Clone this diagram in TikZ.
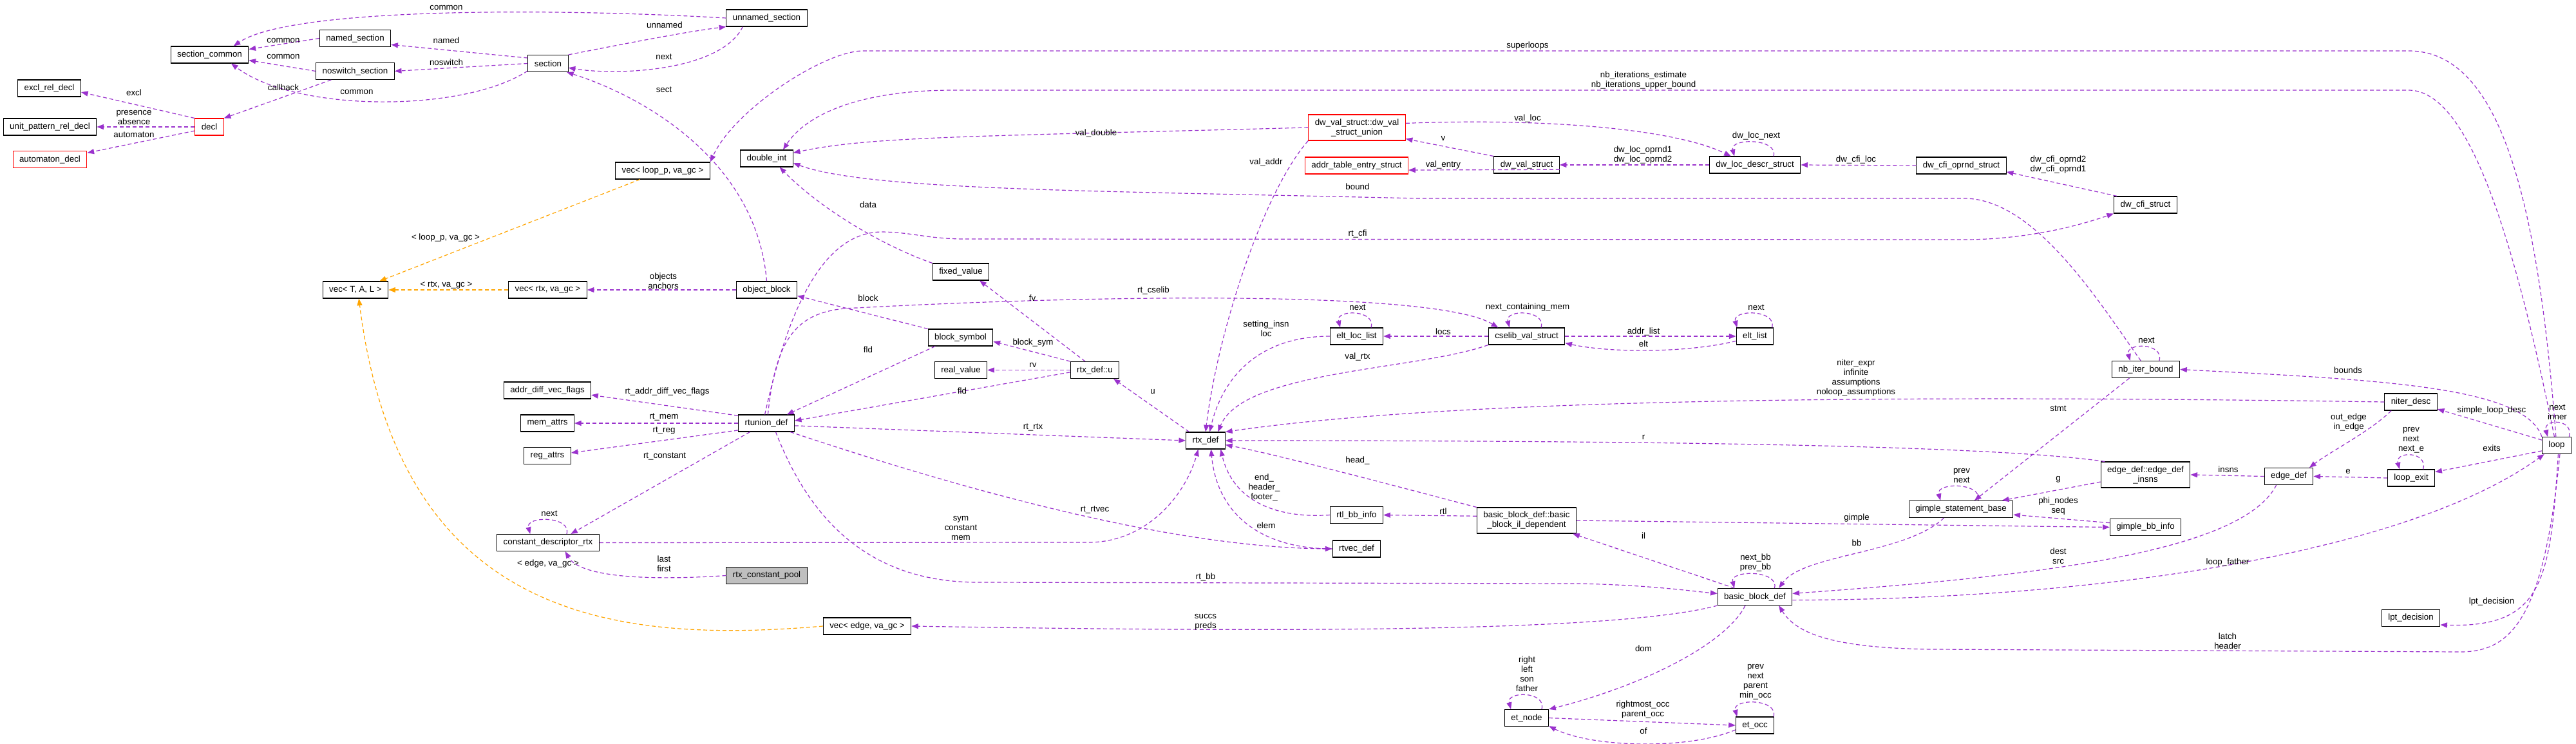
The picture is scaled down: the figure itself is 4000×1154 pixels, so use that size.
\documentclass[tikz,border=0pt]{standalone}
\usepackage{fontspec}
\setmainfont{Liberation Sans}
\usetikzlibrary{arrows.meta}
\definecolor{usecol}{HTML}{9A32CD}
\definecolor{tplcol}{HTML}{FFA500}
\begin{document}
\begin{tikzpicture}[x=0.75pt, y=-0.75pt, font=\fontsize{10}{11.25}\selectfont, >={Triangle[length=8pt,width=6pt]},
      cls/.style={draw=black, line width=0.8pt, fill=white, inner xsep=7.5pt, inner ysep=2pt, minimum height=19.5pt, align=center},
      trunc/.style={cls, draw=red},
      twoline/.style={minimum height=30pt},
      lbl/.style={inner sep=0pt, align=center},
      usage/.style={->, draw=usecol, line width=0.9pt, dash pattern=on 4.5pt off 3pt},
      tmpl/.style={usage, draw=tplcol}]
    \fill[white] (0,0) rectangle (4000,1154);
    \useasboundingbox (0,0) rectangle (4000,1154);
    % classes
    \node[cls] (exclrel) at (76.5,137) {excl\_rel\_decl};
    \node[cls] (unitpat) at (77.5,197) {unit\_pattern\_rel\_decl};
    \node[trunc] (autodecl) at (77.5,247.5) {automaton\_decl};
    \node[trunc] (decl) at (325,197) {decl};
    \node[cls] (seccommon) at (325.5,85) {section\_common};
    \node[cls] (namedsec) at (551.5,59.5) {named\_section};
    \node[cls] (noswsec) at (551.5,110.5) {noswitch\_section};
    \node[cls] (section) at (851,98.5) {section};
    \node[cls] (unnamedsec) at (1190.5,28) {unnamed\_section};
    \node[cls] (vecloop) at (1029,265) {vec< loop\_p, va\_gc >};
    \node[cls] (dblint) at (1190.5,246) {double\_int};
    \node[cls] (vectal) at (552,450) {vec< T, A, L >};
    \node[cls] (vecrtx) at (850.5,450) {vec< rtx, va\_gc >};
    \node[cls] (objblock) at (1190.5,450) {object\_block};
    \node[cls] (fixedval) at (1492,422) {fixed\_value};
    \node[cls] (blocksym) at (1491.5,524) {block\_symbol};
    \node[cls] (realval) at (1492,574.5) {real\_value};
    \node[cls] (rtxu) at (1700,574.5) {rtx\_def::u};
    \node[cls] (adfflags) at (850,606) {addr\_diff\_vec\_flags};
    \node[cls] (memattrs) at (850,657) {mem\_attrs};
    \node[cls] (regattrs) at (850,707.5) {reg\_attrs};
    \node[cls] (rtunion) at (1190,657) {rtunion\_def};
    \node[cls] (rtxdef) at (1872,684) {rtx\_def};
    \node[cls] (constdesc) at (851,842.5) {constant\_descriptor\_rtx};
    \node[cls, fill=black!25] (constpool) at (1190.5,893.5) {rtx\_constant\_pool};
    \node[cls] (vecedge) at (1346.5,972) {vec< edge, va\_gc >};
    \node[trunc, twoline] (dwunion) at (2107,198) {dw\_val\_struct::dw\_val\\\_struct\_union};
    \node[trunc] (addrtable) at (2106.5,257) {addr\_table\_entry\_struct};
    \node[cls] (dwval) at (2370.5,256) {dw\_val\_struct};
    \node[cls] (dwloc) at (2725,256) {dw\_loc\_descr\_struct};
    \node[cls] (dwcfiop) at (3045.5,257) {dw\_cfi\_oprnd\_struct};
    \node[cls] (dwcfi) at (3331.5,318) {dw\_cfi\_struct};
    \node[cls] (eltloc) at (2106.5,522) {elt\_loc\_list};
    \node[cls] (cselib) at (2370.5,522) {cselib\_val\_struct};
    \node[cls] (eltlist) at (2725,522) {elt\_list};
    \node[cls] (nbiter) at (3332,573.5) {nb\_iter\_bound};
    \node[cls] (niter) at (3743.5,624) {niter\_desc};
    \node[cls] (loop) at (3970,691.5) {loop};
    \node[cls, twoline] (edgeinsns) at (3331.5,737) {edge\_def::edge\_def\\\_insns};
    \node[cls] (edgedef) at (3554,739.5) {edge\_def};
    \node[cls] (loopexit) at (3744,742) {loop\_exit};
    \node[cls] (gimplesb) at (3045,790.5) {gimple\_statement\_base};
    \node[cls] (gimplebb) at (3331.5,818.5) {gimple\_bb\_info};
    \node[cls] (lptdec) at (3743.5,959.5) {lpt\_decision};
    \node[cls] (rtlbb) at (2106.5,799.5) {rtl\_bb\_info};
    \node[cls] (rtvec) at (2106.5,852) {rtvec\_def};
    \node[cls, twoline] (bbil) at (2370.5,808) {basic\_block\_def::basic\\\_block\_il\_dependent};
    \node[cls] (bbdef) at (2725,926.5) {basic\_block\_def};
    \node[cls] (etnode) at (2370.5,1114.5) {et\_node};
    \node[cls] (etocc) at (2725,1126) {et\_occ};
    % sections and decl
    \draw[usage] (unnamedsec.west) .. controls (850,12) and (450,12) .. (seccommon.20);
    \draw[usage] (namedsec.west) -- (seccommon.8);
    \draw[usage] (noswsec.west) -- (seccommon.-8);
    \draw[usage] (section.165) -- (namedsec.-10);
    \draw[usage] (section.west) -- (noswsec.east);
    \draw[usage] (section.200) .. controls (720,175) and (460,175) .. (seccommon.-22);
    \draw[usage] (noswsec.200) -- (decl.north east);
    \draw[usage] (decl.north west) -- (exclrel.-7);
    \draw[usage] (decl.west) -- (unitpat.east);
    \draw[usage] (decl.195) -- (autodecl.10);
    \draw[usage] (section.north east) .. controls (960,70) and (1060,50) .. (unnamedsec.south west);
    \draw[usage] (unnamedsec.200) .. controls (1120,110) and (960,118) .. (section.-12);
    \draw[usage] (objblock.north) .. controls (1175,250) and (1000,150) .. (section.-25);
    \draw[usage] (objblock.west) -- (vecrtx.east);
    % templates
    \draw[tmpl] (vecrtx.west) -- (vectal.east);
    \draw[tmpl] (vecloop.201) -- (vectal.20);
    \draw[tmpl] (vecedge.west) .. controls (950,1000) and (620,960) .. (vectal.-69);
    % double_int and dwarf
    \draw[usage] (loop.95) .. controls (3940,300) and (3880,79) .. (3740,79) -- (1340,79) .. controls (1280,79) and (1140,170) .. (vecloop.north east);
    \draw[usage] (loop.105) .. controls (3900,350) and (3830,140) .. (3740,140) -- (1480,140) .. controls (1330,140) and (1250,180) .. (dblint.28);
    \draw[usage] (dwunion.west) .. controls (1500,212) and (1350,212) .. (dblint.12);
    \draw[usage] (dwunion.south west) .. controls (1960,300) and (1890,520) .. (rtxdef.north);
    \draw[usage] (fixedval.north west) .. controls (1380,385) and (1280,330) .. (dblint.-34);
    \draw[usage] (nbiter.120) .. controls (3260,470) and (3160,308) .. (3050,308) -- (2200,308) .. controls (1700,296) and (1350,296) .. (dblint.-10);
    \draw[usage] (dwunion.5) .. controls (2400,183) and (2600,200) .. (dwloc.160);
    \draw[usage] (dwval.north west) -- (dwunion.-13);
    \draw[usage] (dwval.-8) -- (addrtable.-5);
    \draw[usage] (dwloc.west) -- (dwval.east);
    \draw[usage] (dwcfiop.west) -- (dwloc.east);
    \draw[usage] (dwcfi.163) -- (dwcfiop.-8);
    \draw[usage] (dwloc.25) to[out=75,in=105,distance=22pt] (dwloc.157);
    \draw[usage] (rtunion.100) .. controls (1230,450) and (1290,360) .. (1370,360) .. controls (1420,361) and (1440,371) .. (1500,371) -- (3050,372) .. controls (3120,372) and (3200,360) .. (dwcfi.south west);
    % rtl
    \draw[usage] (rtunion.80) .. controls (1205,520) and (1240,480) .. (1330,478) .. controls (1700,458) and (2230,450) .. (cselib.163);
    \draw[usage] (cselib.west) -- (eltloc.east);
    \draw[usage] (cselib.east) -- (eltlist.west);
    \draw[usage] (eltlist.194) .. controls (2620,548) and (2500,548) .. (cselib.-10);
    \draw[usage] (eltloc.31) to[out=75,in=105,distance=22pt] (eltloc.152);
    \draw[usage] (cselib.31) to[out=75,in=105,distance=22pt] (cselib.153);
    \draw[usage] (eltlist.27) to[out=75,in=105,distance=22pt] (eltlist.154);
    \draw[usage] (eltloc.west) .. controls (1960,522) and (1900,580) .. (rtxdef.65);
    \draw[usage] (cselib.south west) .. controls (2200,575) and (1930,575) .. (rtxdef.35);
    \draw[usage] (niter.west) .. controls (2900,612) and (2250,620) .. (rtxdef.north east);
    \draw[usage] (edgeinsns.162) .. controls (3100,692) and (2600,684) .. (rtxdef.east);
    \draw[usage] (bbil.north west) .. controls (2150,750) and (1980,705) .. (rtxdef.-12);
    \draw[usage] (bbil.175) -- (rtlbb.east);
    \draw[usage] (rtlbb.west) .. controls (1985,805) and (1915,780) .. (rtxdef.-30);
    \draw[usage] (rtvec.west) .. controls (1960,852) and (1890,800) .. (rtxdef.-58);
    \draw[usage] (rtunion.-20) .. controls (1450,745) and (1800,850) .. (rtvec.west);
    \draw[usage] (constdesc.east) -- (1690,842) .. controls (1780,842) and (1840,770) .. (rtxdef.-130);
    \draw[usage] (rtunion.-5) -- (rtxdef.west);
    \draw[usage] (rtxdef.152) -- (rtxu.-25);
    \draw[usage] (rtxu.138) -- (fixedval.-25);
    \draw[usage] (rtxu.north west) -- (blocksym.-7);
    \draw[usage] (rtxu.west) -- (realval.east);
    \draw[usage] (rtxu.185) -- (rtunion.5);
    \draw[usage] (blocksym.north west) -- (objblock.-11);
    \draw[usage] (blocksym.199) -- (rtunion.23);
    \draw[usage] (rtunion.165) -- (adfflags.-6);
    \draw[usage] (rtunion.west) -- (memattrs.east);
    \draw[usage] (rtunion.194) -- (regattrs.7);
    \draw[usage] (rtunion.208) -- (constdesc.21);
    \draw[usage] (constdesc.25) to[out=75,in=105,distance=22pt] (constdesc.154);
    \draw[usage] (constpool.west) .. controls (1000,902) and (900,895) .. (constdesc.-27);
    \draw[usage] (rtunion.-43) .. controls (1270,840) and (1380,904) .. (1520,904) -- (2450,906) .. controls (2560,908) and (2630,918) .. (bbdef.175);
    % basic blocks
    \draw[usage] (bbdef.157) -- (bbil.-16);
    \draw[usage] (bbdef.24) to[out=75,in=105,distance=22pt] (bbdef.157);
    \draw[usage] (bbdef.south west) .. controls (2500,985) and (1900,980) .. (vecedge.east);
    \draw[usage] (bbdef.-138) .. controls (2680,1000) and (2550,1065) .. (etnode.north east);
    \draw[usage] (etnode.east) -- (etocc.west);
    \draw[usage] (etocc.193) .. controls (2620,1165) and (2470,1160) .. (etnode.-20);
    \draw[usage] (etnode.30) to[out=75,in=105,distance=22pt] (etnode.151);
    \draw[usage] (etocc.25) to[out=75,in=105,distance=22pt] (etocc.154);
    \draw[usage] (gimplesb.207) .. controls (2960,860) and (2800,860) .. (bbdef.20);
    \draw[usage] (bbil.east) -- (gimplebb.west);
    \draw[usage] (gimplebb.173) -- (gimplesb.-6);
    \draw[usage] (gimplesb.27) to[out=75,in=105,distance=22pt] (gimplesb.157);
    \draw[usage] (nbiter.208) -- (gimplesb.33);
    \draw[usage] (nbiter.33) to[out=75,in=105,distance=22pt] (nbiter.151);
    \draw[usage] (edgeinsns.189) -- (gimplesb.12);
    % loops
    \draw[usage] (edgedef.215) .. controls (3480,860) and (3150,895) .. (bbdef.5);
    \draw[usage] (bbdef.-5) .. controls (3300,930) and (3750,850) .. (loop.215);
    \draw[usage] (loop.-70) .. controls (3950,960) and (3900,1012) .. (3820,1012) -- (3000,1008) .. controls (2850,1006) and (2790,985) .. (bbdef.-20);
    \draw[usage] (loop.-80) .. controls (3960,900) and (3950,975) .. (lptdec.-13);
    \draw[usage] (loop.north west) .. controls (3920,600) and (3700,590) .. (nbiter.east);
    \draw[usage] (loop.160) -- (niter.-15);
    \draw[usage] (loop.200) -- (loopexit.14);
    \draw[usage] (loop.35) to[out=75,in=105,distance=22pt] (loop.136);
    \draw[usage] (loopexit.west) -- (edgedef.east);
    \draw[usage] (loopexit.36) to[out=75,in=105,distance=22pt] (loopexit.143);
    \draw[usage] (edgedef.west) -- (edgeinsns.east);
    \draw[usage] (niter.204) .. controls (3680,670) and (3620,700) .. (edgedef.23);
    % labels
    \node[lbl] (t-common1) at (693,12) {common};
    \node[lbl] (t-common2) at (440,63) {common};
    \node[lbl] (t-common3) at (440,88) {common};
    \node[lbl] (t-named) at (693,63) {named};
    \node[lbl] (t-noswitch) at (693,97) {noswitch};
    \node[lbl] (t-callback) at (440,136) {callback};
    \node[lbl] (t-common4) at (554,143) {common};
    \node[lbl] (t-excl) at (208,144) {excl};
    \node[lbl] (t-presence) at (208,182) {presence\\absence};
    \node[lbl] (t-automaton) at (208,209) {automaton};
    \node[lbl] (t-unnamed) at (1032,39) {unnamed};
    \node[lbl] (t-next1) at (1031,88) {next};
    \node[lbl] (t-sect) at (1031,139) {sect};
    \node[lbl] (t-looppva) at (692,369) {< loop\_p, va\_gc >};
    \node[lbl] (t-rtxva) at (693,443) {< rtx, va\_gc >};
    \node[lbl] (t-objects) at (1030,436) {objects\\anchors};
    \node[lbl] (t-edgeva) at (851,875) {< edge, va\_gc >};
    \node[lbl] (t-superloops) at (2372,71) {superloops};
    \node[lbl] (t-nbiter) at (2552,124.5) {nb\_iterations\_estimate\\nb\_iterations\_upper\_bound};
    \node[lbl] (t-valdouble) at (1702,207) {val\_double};
    \node[lbl] (t-valaddr) at (1966,252) {val\_addr};
    \node[lbl] (t-data) at (1348,318) {data};
    \node[lbl] (t-bound) at (2108,290) {bound};
    \node[lbl] (t-rtcfi) at (2108,363) {rt\_cfi};
    \node[lbl] (t-valloc) at (2372,184) {val\_loc};
    \node[lbl] (t-v) at (2241,215) {v};
    \node[lbl] (t-dwlocnext) at (2727,211) {dw\_loc\_next};
    \node[lbl] (t-dwlocop) at (2551,240.5) {dw\_loc\_oprnd1\\dw\_loc\_oprnd2};
    \node[lbl] (t-valentry) at (2241,256) {val\_entry};
    \node[lbl] (t-dwcfiloc) at (2882,248) {dw\_cfi\_loc};
    \node[lbl] (t-dwcfiop) at (3196,255.5) {dw\_cfi\_oprnd2\\dw\_cfi\_oprnd1};
    \node[lbl] (t-block) at (1348,463) {block};
    \node[lbl] (t-fv) at (1603,463) {fv};
    \node[lbl] (t-rtcselib) at (1791,451) {rt\_cselib};
    \node[lbl] (t-fld1) at (1348,543) {fld};
    \node[lbl] (t-blocksym) at (1604,532) {block\_sym};
    \node[lbl] (t-rv) at (1604,567) {rv};
    \node[lbl] (t-fld2) at (1494,607) {fld};
    \node[lbl] (t-u) at (1790,608) {u};
    \node[lbl] (t-settinginsn) at (1966,510) {setting\_insn\\loc};
    \node[lbl] (t-rtrtx) at (1604,664) {rt\_rtx};
    \node[lbl] (t-footer) at (1963,757) {end\_\\header\_\\footer\_};
    \node[lbl] (t-rtadfflags) at (1036,608) {rt\_addr\_diff\_vec\_flags};
    \node[lbl] (t-rtmem) at (1031,648) {rt\_mem};
    \node[lbl] (t-rtreg) at (1031,669) {rt\_reg};
    \node[lbl] (t-rtconstant) at (1032,709) {rt\_constant};
    \node[lbl] (t-next2) at (2108,477) {next};
    \node[lbl] (t-nextcm) at (2372,477) {next\_containing\_mem};
    \node[lbl] (t-next3) at (2727,477) {next};
    \node[lbl] (t-locs) at (2241,515) {locs};
    \node[lbl] (t-addrlist) at (2552,515) {addr\_list};
    \node[lbl] (t-elt) at (2552,534) {elt};
    \node[lbl] (t-valrtx) at (2108,554) {val\_rtx};
    \node[lbl] (t-niterexpr) at (2882,586.5) {niter\_expr\\infinite\\assumptions\\noloop\_assumptions};
    \node[lbl] (t-r) at (2552,679) {r};
    \node[lbl] (t-head) at (2108,715) {head\_};
    \node[lbl] (t-next4) at (3333,528) {next};
    \node[lbl] (t-bounds) at (3646,575) {bounds};
    \node[lbl] (t-stmt) at (3196,634) {stmt};
    \node[lbl] (t-simple) at (3869,637) {simple\_loop\_desc};
    \node[lbl] (t-inner) at (3971,639.5) {next\\inner};
    \node[lbl] (t-outedge) at (3647,655.5) {out\_edge\\in\_edge};
    \node[lbl] (t-nexte) at (3744,683) {prev\\next\\next\_e};
    \node[lbl] (t-exits) at (3869,696) {exits};
    \node[lbl] (t-insns) at (3460,729) {insns};
    \node[lbl] (t-e) at (3646,732) {e};
    \node[lbl] (t-g) at (3196,744) {g};
    \node[lbl] (t-prevnext) at (3046,738) {prev\\next};
    \node[lbl] (t-phinodes) at (3196,786) {phi\_nodes\\seq};
    \node[lbl] (t-destsrc) at (3196,863.5) {dest\\src};
    \node[lbl] (t-loopfather) at (3459,873) {loop\_father};
    \node[lbl] (t-lptdec) at (3869,934) {lpt\_decision};
    \node[lbl] (t-latch) at (3459,995.5) {latch\\header};
    \node[lbl] (t-rtl) at (2241,794) {rtl};
    \node[lbl] (t-il) at (2552,832) {il};
    \node[lbl] (t-bb) at (2883,843) {bb};
    \node[lbl] (t-gimple) at (2883,804) {gimple};
    \node[lbl] (t-nextbb) at (2726,874) {next\_bb\\prev\_bb};
    \node[lbl] (t-dom) at (2552,1007) {dom};
    \node[lbl] (t-father) at (2371,1046.5) {right\\left\\son\\father};
    \node[lbl] (t-minocc) at (2726,1059) {prev\\next\\parent\\min\_occ};
    \node[lbl] (t-rightmost) at (2551,1101.5) {rightmost\_occ\\parent\_occ};
    \node[lbl] (t-of) at (2552,1135) {of};
    \node[lbl] (t-sym) at (1492,820) {sym\\constant\\mem};
    \node[lbl] (t-rtrtvec) at (1700,792) {rt\_rtvec};
    \node[lbl] (t-rtbb) at (1872,896) {rt\_bb};
    \node[lbl] (t-succs) at (1872,966) {succs\\preds};
    \node[lbl] (t-elem) at (1966,816) {elem};
    \node[lbl] (t-lastfirst) at (1031,875) {last\\first};
    \node[lbl] (t-next5) at (853,797) {next};
  \end{tikzpicture}
\end{document}
